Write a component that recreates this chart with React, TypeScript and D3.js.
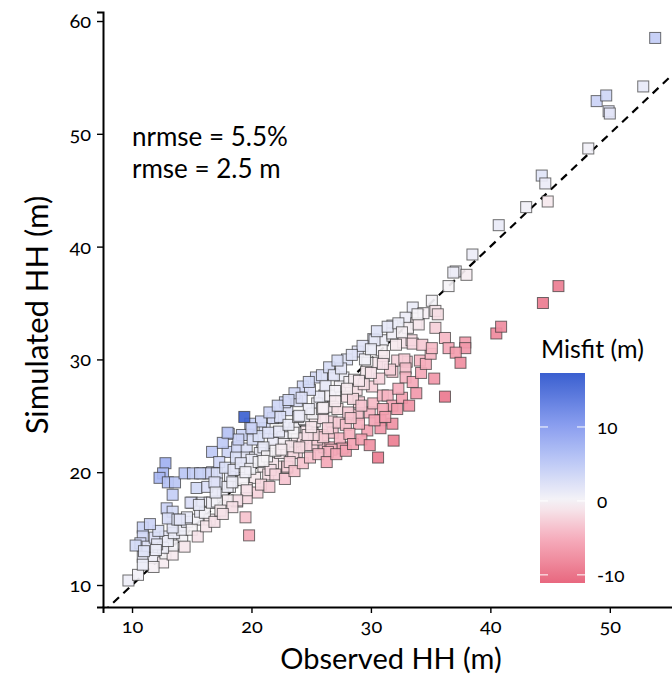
import { useEffect, useRef } from "react";
import * as d3 from "d3";

// observed vs simulated hub height (m)
const lowBand: [number, number][] = [
  [9.7,10.4],[10.5,10.9],[10.9,15.1],[10.9,14.3],[10.7,13.7],[10.3,13.5],[11.3,13.4],[11.9,14.2],
  [12.8,14.3],[13.6,14.3],[14.2,14.3],[10.9,12.5],[11.8,12.4],[12.6,12.0],[12.8,12.8],[13.4,12.7],
  [13.4,13.5],[11.8,11.6],[10.9,11.8],[14.4,13.4],[12.6,13.3],[12.1,13.6],[13.0,13.9],[13.5,14.6],
  [14.2,14.9],[13.4,15.1],[12.8,20.8],[12.6,19.9],[12.3,19.5],[13.0,19.1],[13.6,19.1],[14.4,19.9],
  [13.4,18.0],[15.1,19.9],[15.9,19.9],[16.7,20.0],[15.4,18.6],[16.3,18.7],[15.0,17.3],[15.9,17.3],
  [16.5,17.3],[12.9,16.8],[13.4,16.5],[13.0,15.9],[13.8,15.8],[14.6,15.6],[15.5,15.8],[15.0,14.9],
  [15.5,14.3],[14.9,17.3],[15.7,16.5],[16.5,15.8],[14.6,16.0],[16.1,16.4],[16.4,19.9],[15.7,19.9],
  [11.0,13.0],[12.2,14.8],[11.5,15.4],[16.2,15.2],[16.9,15.6],[15.6,17.1],[14.0,15.8],[12.0,13.1]
];

const midBand: [number, number][] = [
  [16.7,21.8],[18.0,21.8],[18.8,22.2],[19.6,22.1],[20.9,22.0],[21.7,22.0],[17.3,20.9],[18.7,21.3],
  [19.6,21.3],[20.3,21.3],[21.0,20.5],[22.1,20.5],[23.0,20.4],[17.1,19.9],[18.2,19.6],[19.2,19.5],
  [20.3,19.5],[21.4,19.8],[17.1,19.0],[18.2,18.7],[19.6,18.6],[20.5,18.2],[16.7,17.3],[17.6,18.0],
  [18.8,17.4],[19.6,17.7],[19.5,16.0],[19.8,14.4],[18.1,23.4],[20.0,23.7],[21.1,23.9],[19.2,23.3],
  [20.1,22.9],[21.9,22.9],[22.9,23.5],[23.6,23.9],[24.5,24.6],[25.1,24.4],[25.1,23.5],[26.0,23.3],
  [23.8,22.9],[22.6,21.8],[23.8,21.8],[25.1,22.4],[26.1,22.2],[22.1,24.8],[23.0,25.5],[23.8,26.3],
  [24.3,27.6],[25.4,28.4],[26.1,26.8],[25.5,26.1],[21.8,24.8],[22.4,24.9],[24.4,24.7],[25.3,24.5],
  [26.7,24.5],[24.6,23.6],[25.5,22.9],[26.6,22.2],[27.7,22.2],[26.8,23.5],[26.0,24.8],[25.1,25.2],
  [26.8,25.8],[25.7,26.7],[26.6,26.8],[26.8,28.7],[27.7,28.4],[27.4,27.6],[28.0,26.7],[23.0,21.8],
  [21.8,22.0],[21.8,20.8],[23.0,20.5],[20.7,21.7],[20.0,21.1],[19.3,19.3],[19.6,18.4],[18.8,17.5],
  [18.0,17.5],[17.1,17.4],[18.0,18.7],[16.9,19.1],[17.4,16.6],[27.4,23.0],[27.6,22.1],[26.7,22.0],
  [26.0,23.1],[25.2,23.3],[24.3,23.0],[23.5,23.5],[22.6,23.1],[21.8,22.6],[21.0,22.2],[22.4,21.7],
  [23.5,21.7],[24.6,22.4],[26.4,21.8],[23.2,20.9],[21.6,20.2],[17.8,20.4],[18.5,20.2],[19.1,20.8],
  [19.9,20.3],[20.6,20.9],[21.3,21.4],[22.0,21.9],[22.7,22.5],[23.3,22.3],[24.0,22.2],[24.7,23.3],
  [22.3,23.6],[23.1,24.2],[23.9,24.9],[24.8,25.6],[20.6,23.2],[21.4,23.5],[18.9,22.9],[17.6,22.6],
  [19.9,24.3],[20.8,24.5],[22.8,26.2],[23.6,27.0],[24.9,27.3],[26.2,27.7],[27.0,27.2],[28.2,28.0],
  [18.0,23.5],[20.0,23.9],[21.5,25.3],[22.2,25.9],[23.1,26.4],[24.2,26.6],[24.8,28.0],[25.9,28.6],
  [26.5,29.3],[22.0,19.8],[22.8,19.4],[23.6,20.1],[24.3,20.8],[24.9,21.3],[25.6,21.6],[26.3,20.9],
  [27.1,21.6],[27.9,21.9],[26.4,23.9],[25.9,25.6],[27.2,25.6],[27.3,24.4],[20.8,18.9],[21.5,18.7],
  [18.4,16.9],[17.6,16.3],[24.0,25.0],[25.0,24.0],[26.0,25.7],[27.0,26.3],[22.5,22.0],[21.0,21.0],
  [19.5,20.0],[18.4,19.1],[17.0,18.2]
];

const upperBand: [number, number][] = [
  [30.2,31.8],[31.0,31.7],[31.8,32.1],[30.9,30.8],[32.7,31.5],[33.0,29.8],[31.8,28.9],[30.5,29.7],
  [29.7,29.7],[28.6,28.2],[28.8,27.3],[26.9,28.6],[28.9,25.1],[29.9,25.3],[30.8,24.6],[30.2,26.1],
  [31.0,26.8],[28.1,25.3],[29.7,23.7],[30.8,23.9],[31.8,24.3],[31.9,22.8],[30.6,21.3],[36.5,36.5],
  [35.1,35.2],[33.5,34.6],[34.4,34.1],[35.4,34.3],[35.6,34.0],[32.9,33.7],[33.8,33.2],[31.8,33.0],
  [35.4,32.8],[33.1,32.8],[34.0,33.1],[31.8,32.3],[30.3,31.7],[32.1,31.3],[33.4,31.7],[33.5,31.4],
  [36.2,31.9],[37.9,31.5],[37.9,31.0],[36.5,31.0],[37.1,30.6],[37.5,29.7],[32.2,29.9],[32.8,30.0],
  [34.1,29.9],[31.6,29.1],[32.9,29.2],[32.9,28.4],[35.3,28.3],[33.8,27.0],[36.2,26.7],[29.6,28.9],
  [31.4,26.8],[31.8,25.9],[31.0,25.6],[28.0,30.0],[28.9,30.7],[29.3,31.2],[30.5,32.5],[27.5,29.2],
  [29.0,26.2],[30.1,27.6],[28.5,26.5],[29.4,27.8],[30.7,28.3],[27.9,24.2],[29.0,24.3],[28.2,23.4],
  [27.2,29.9],[28.4,30.4],[29.5,30.0],[30.0,30.9],[31.1,30.3],[31.4,32.9],[32.3,33.2],[32.6,32.4],
  [33.9,34.0],[28.5,22.5],[29.2,22.9],[29.9,22.4],[30.3,24.6],[31.2,24.9],[32.2,25.6],[32.6,26.6],
  [33.2,25.9],[33.5,28.0],[34.2,28.8],[34.6,29.6],[35.0,30.5],[34.3,31.3],[35.1,31.0],[32.3,27.4],
  [29.2,25.9],[28.3,24.8],[28.0,27.4],[29.0,28.1],[30.0,28.8],[31.0,29.6]
];

const tallTrees: [number, number][] = [
  [53.8,58.5],[52.8,54.2],[48.9,52.9],[49.7,53.4],[49.9,52.0],[50.0,51.8],[48.2,48.7],[44.3,46.3],
  [44.6,45.6],[44.8,44.0],[43.0,43.5],[40.7,41.9],[38.5,39.3],[37.1,37.8],[36.9,37.7],[38.0,37.5],
  [45.7,36.5],[44.4,35.0],[40.5,32.3],[40.9,32.9]
];

// the one point whose colour sits far up the scale: [obs, sim, misfit]
const strongMisfit: [number, number, number][] = [[19.4, 24.9, 17]];

const xTicks = [10, 20, 30, 40, 50];
const yTicks = [10, 20, 30, 40, 50, 60];
const legendTicks = [10, 0, -10];
const misfitRange: [number, number] = [-11.1, 17.3];
const colourStops = [-11.1, -5, 0, 5, 10, 17.3];
const colourValues = ["#e8687f", "#f6aebd", "#f6f4f7", "#c0cbf6", "#8ca0f0", "#3a5fd0"];
const statLines = ["nrmse = 5.5%", "rmse = 2.5 m"];

const App = () => {
  const svgRef = useRef<SVGSVGElement>(null);

  useEffect(() => {
    document.body.style.margin = "0";
    const svg = d3.select(svgRef.current);
    svg.selectAll("*").remove();
    const font = "Lato, 'Open Sans', sans-serif";

    const x = d3.scaleLinear().domain([7.57, 57.3]).range([103, 697]);
    const y = d3.scaleLinear().domain([8.05, 60.8]).range([607, 12]);
    const color = d3.scaleLinear<string>()
      .domain(colourStops)
      .range(colourValues)
      .interpolate(d3.interpolateRgb);

    const defs = svg.append("defs");
    defs.append("clipPath").attr("id", "panel")
      .append("rect").attr("x", 103).attr("y", 12).attr("width", 600).attr("height", 595);

    // 1:1 line
    svg.append("line")
      .attr("clip-path", "url(#panel)")
      .attr("x1", x(7.57)).attr("y1", y(7.57))
      .attr("x2", x(60)).attr("y2", y(60))
      .attr("stroke", "#000").attr("stroke-width", 2.2)
      .attr("stroke-dasharray", "8,6");

    const pts: { o: number; s: number; m: number }[] = [
      ...lowBand, ...midBand, ...upperBand, ...tallTrees
    ].map(([o, s]) => ({ o, s, m: s - o }));
    strongMisfit.forEach(([o, s, m]) => pts.push({ o, s, m }));

    const size = 11;
    svg.append("g").attr("clip-path", "url(#panel)")
      .selectAll("rect").data(pts).join("rect")
      .attr("x", d => x(d.o) - size / 2)
      .attr("y", d => y(d.s) - size / 2)
      .attr("width", size).attr("height", size)
      .attr("fill", d => color(d.m))
      .attr("fill-opacity", 0.92)
      .attr("stroke", "#333").attr("stroke-opacity", 0.7).attr("stroke-width", 1);

    // axes
    const xAxis = svg.append("g").attr("transform", "translate(0,607)")
      .call(d3.axisBottom(x).tickValues(xTicks).tickSizeOuter(0).tickSize(6).tickPadding(6));
    const yAxis = svg.append("g").attr("transform", "translate(103,0)")
      .call(d3.axisLeft(y).tickValues(yTicks).tickSizeOuter(0).tickSize(6).tickPadding(6));
    [xAxis, yAxis].forEach(g => {
      g.select(".domain").attr("stroke", "#000").attr("stroke-width", 2);
      g.selectAll(".tick line").attr("stroke", "#000").attr("stroke-width", 1.4);
      g.selectAll(".tick text")
        .attr("fill", "#000")
        .style("font-family", font).style("font-size", "20px")
        .style("font-variant-numeric", "oldstyle-nums");
    });

    svg.append("text").attr("x", 391).attr("y", 669)
      .attr("text-anchor", "middle")
      .style("font-family", font).style("font-size", "29px")
      .text("Observed HH (m)");
    svg.append("text")
      .attr("transform", "translate(48,315) rotate(-90)")
      .attr("text-anchor", "middle")
      .style("font-family", font).style("font-size", "31px")
      .text("Simulated HH (m)");

    svg.append("g").selectAll("text").data(statLines).join("text")
      .attr("x", 132).attr("y", (d, i) => 146 + i * 32)
      .style("font-family", font).style("font-size", "26px")
      .text(d => d);

    // colour bar legend
    const lg = svg.append("g");
    const barX = 540, barW = 45;
    const ly = d3.scaleLinear().domain(misfitRange).range([583, 373]);
    const grad = defs.append("linearGradient").attr("id", "misfitGrad")
      .attr("x1", 0).attr("y1", 1).attr("x2", 0).attr("y2", 0);
    d3.range(0, 1.0001, 0.05).forEach(t => {
      const v = misfitRange[0] + t * (misfitRange[1] - misfitRange[0]);
      grad.append("stop").attr("offset", t).attr("stop-color", color(v));
    });
    lg.append("text").attr("x", barX + 1).attr("y", 358)
      .style("font-family", font).style("font-size", "25px")
      .text("Misfit (m)");
    lg.append("rect").attr("x", barX).attr("y", ly(misfitRange[1]))
      .attr("width", barW).attr("height", ly(misfitRange[0]) - ly(misfitRange[1]))
      .attr("fill", "url(#misfitGrad)");
    legendTicks.forEach(v => {
      lg.append("line").attr("x1", barX).attr("x2", barX + 8)
        .attr("y1", ly(v)).attr("y2", ly(v)).attr("stroke", "#fff").attr("stroke-width", 1);
      lg.append("line").attr("x1", barX + barW - 8).attr("x2", barX + barW)
        .attr("y1", ly(v)).attr("y2", ly(v)).attr("stroke", "#fff").attr("stroke-width", 1);
      lg.append("text").attr("x", barX + barW + 12).attr("y", ly(v)).attr("dy", "0.35em")
        .style("font-family", font).style("font-size", "19px")
        .style("font-variant-numeric", "oldstyle-nums")
        .text(v);
    });
  }, []);

  return <svg ref={svgRef} width={672} height={675} style={{ display: "block" }} />;
};

export default App;
